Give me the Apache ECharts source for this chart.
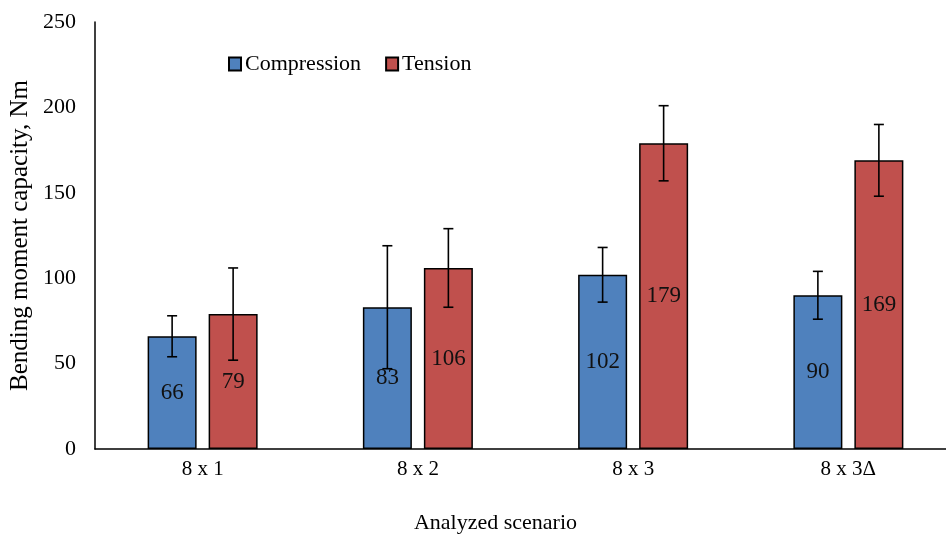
<!DOCTYPE html>
<html>
<head>
<meta charset="utf-8">
<script src="https://cdn.jsdelivr.net/npm/echarts@6/dist/echarts.min.js"></script>
<style>html,body{margin:0;padding:0;background:#fff}#c{width:946px;height:540px}</style>
</head>
<body>
<div id="c"></div>
<script>
const categories = ['8 x 1', '8 x 2', '8 x 3', '8 x 3\u0394'];
const compression = [66, 83, 102, 90];
const tension = [79, 106, 179, 169];
const compressionErr = [12, 36, 16, 14];
const tensionErr = [27, 23, 22, 21];
const yTicks = { min: 0, max: 250, interval: 50 };

const FONT = '"Liberation Serif", "DejaVu Serif", serif';
const BAR_W = 49, BAR_GAP = 12;
const OFFSET = (BAR_W + BAR_GAP) / 2;

function errorSeries(name, values, errs, dir) {
  return {
    type: 'custom',
    name: name + ' err',
    z: 10,
    silent: true,
    data: values.map((v, i) => [i, v - errs[i], v + errs[i]]),
    renderItem: function (params, api) {
      const i = api.value(0);
      const lo = api.coord([i, api.value(1)]);
      const hi = api.coord([i, api.value(2)]);
      const x = lo[0] + dir * OFFSET;
      const cap = 5;
      const st = { stroke: '#000', lineWidth: 1.6 };
      return {
        type: 'group',
        children: [
          { type: 'line', shape: { x1: x, y1: lo[1], x2: x, y2: hi[1] }, style: st },
          { type: 'line', shape: { x1: x - cap, y1: lo[1], x2: x + cap, y2: lo[1] }, style: st },
          { type: 'line', shape: { x1: x - cap, y1: hi[1], x2: x + cap, y2: hi[1] }, style: st }
        ]
      };
    }
  };
}

const chart = echarts.init(document.getElementById('c'), null, { renderer: 'canvas' });
chart.setOption({
  animation: false,
  backgroundColor: '#fff',
  textStyle: { fontFamily: FONT },
  grid: { left: 95, top: 22, width: 861, height: 427, containLabel: false, outerBoundsMode: 'none' },
  legend: {
    data: ['Compression', 'Tension'],
    left: 223, top: 48,
    itemWidth: 12, itemHeight: 13, itemGap: 24,
    textStyle: { fontFamily: FONT, fontSize: 22, color: '#000', padding: [0, 0, 0, -1] },
    icon: 'rect'
  },
  xAxis: {
    type: 'category',
    data: categories,
    name: 'Analyzed scenario',
    nameLocation: 'middle',
    nameGap: 63,
    nameTextStyle: { fontFamily: FONT, fontSize: 22, color: '#000', padding: [0, 60, 0, 0] },
    axisLine: { lineStyle: { color: '#000', width: 1.5 } },
    axisTick: { show: false },
    axisLabel: { fontFamily: FONT, fontSize: 21, color: '#000', margin: 10 }
  },
  yAxis: {
    type: 'value',
    min: yTicks.min, max: yTicks.max, interval: yTicks.interval,
    name: 'Bending moment capacity, Nm',
    nameLocation: 'middle',
    nameGap: 62,
    nameMoveOverlap: false,
    nameTextStyle: { fontFamily: FONT, fontSize: 25, color: '#000' },
    axisLine: { show: true, lineStyle: { color: '#000', width: 1.5 } },
    axisTick: { show: false },
    splitLine: { show: false },
    axisLabel: { fontFamily: FONT, fontSize: 22, color: '#000', margin: 19 }
  },
  series: [
    {
      name: 'Compression', type: 'bar', data: compression,
      barWidth: BAR_W, barGap: (BAR_GAP / BAR_W * 100) + '%',
      itemStyle: { color: '#4F81BD', borderColor: '#000', borderWidth: 1.5 },
      label: { show: true, position: 'inside', fontFamily: FONT, fontSize: 23, color: '#111' }
    },
    {
      name: 'Tension', type: 'bar', data: tension,
      barWidth: BAR_W,
      itemStyle: { color: '#C0504D', borderColor: '#000', borderWidth: 1.5 },
      label: { show: true, position: 'inside', fontFamily: FONT, fontSize: 23, color: '#111' }
    },
    errorSeries('Compression', compression, compressionErr, -1),
    errorSeries('Tension', tension, tensionErr, 1)
  ]
});
</script>
</body>
</html>
